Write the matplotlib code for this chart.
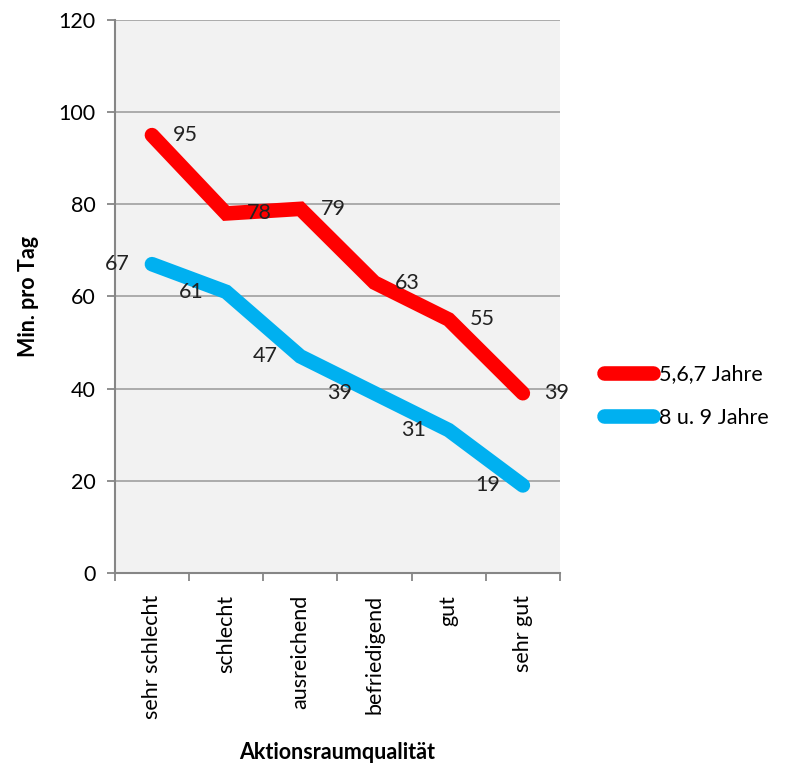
import matplotlib
matplotlib.use("Agg")
import matplotlib.pyplot as plt
import numpy as np

categories = ["sehr schlecht", "schlecht", "ausreichend", "befriedigend", "gut", "sehr gut"]
series_young = [95, 78, 79, 63, 55, 39]
series_old = [67, 61, 47, 39, 31, 19]
series_names = ["5,6,7 Jahre", "8 u. 9 Jahre"]
y_ticks = [0, 20, 40, 60, 80, 100, 120]

plt.rcParams['font.family'] = ['Lato', 'DejaVu Sans']
fs = 15.5
fig = plt.figure(figsize=(7.92, 7.64), dpi=100)
ax = fig.add_axes([0.145, 0.25, 0.562, 0.724])
ax.set_facecolor('#F2F2F2')

x = np.arange(len(categories))
red = '#FF0000'
blue = '#00B0F0'
ax.plot(x, series_young, color=red, lw=10.5, solid_capstyle='round', solid_joinstyle='miter', label=series_names[0], zorder=3)
ax.plot(x, series_old, color=blue, lw=10.5, solid_capstyle='round', solid_joinstyle='miter', label=series_names[1], zorder=3)

for xi, v in zip(x, series_young):
    ax.annotate(str(v), (xi, v), xytext=(15, 0), textcoords='offset points',
                ha='left', va='center', fontsize=fs, color='#222222', zorder=4)
for xi, v in zip(x, series_old):
    ax.annotate(str(v), (xi, v), xytext=(-16, 0), textcoords='offset points',
                ha='right', va='center', fontsize=fs, color='#222222', zorder=4)

ax.set_xlim(-0.5, len(categories) - 0.5)
ax.set_ylim(0, 120)
ax.set_yticks(y_ticks)
ax.set_yticklabels([str(t) for t in y_ticks], fontsize=fs)
ax.yaxis.grid(True, color='#A6A6A6', lw=1.3)
ax.set_axisbelow(True)

ax.set_xticks(x)
ax.set_xticklabels(categories, rotation=90, fontsize=fs)
ax.set_xticks(np.arange(-0.5, len(categories)), minor=True)
ax.tick_params(axis='x', which='major', length=0, pad=16)
ax.tick_params(axis='x', which='minor', length=6, color='#868686', width=1.3)
ax.tick_params(axis='y', length=6, color='#868686', width=1.3, pad=8)

for s in ['top', 'right']:
    ax.spines[s].set_visible(False)
for s in ['left', 'bottom']:
    ax.spines[s].set_color('#868686')
    ax.spines[s].set_linewidth(1.5)

ax.set_ylabel('Min. pro Tag', fontsize=fs, fontweight='bold', labelpad=14)
ax.set_xlabel('Aktionsraumqualität', fontsize=fs, fontweight='bold', labelpad=16)

leg = ax.legend(loc='center left', bbox_to_anchor=(1.055, 0.32), frameon=False,
                fontsize=fs, handlelength=2.3, handletextpad=0.25, labelspacing=1.1)

fig.savefig('out.png', dpi=100)
